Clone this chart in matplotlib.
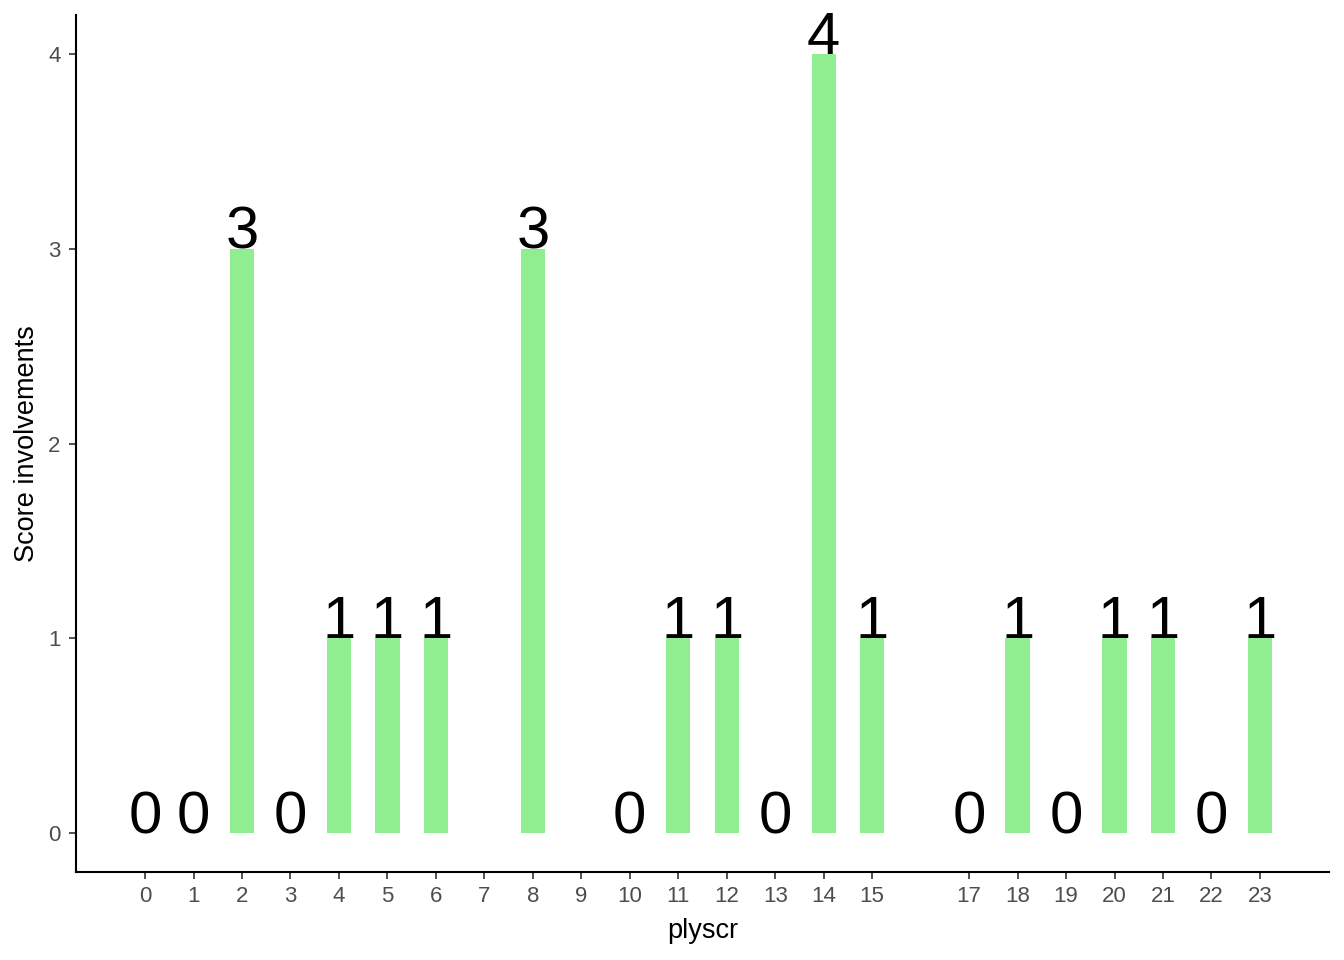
import numpy as np
import matplotlib
matplotlib.use("Agg")
import matplotlib.pyplot as plt

plt.rcParams['font.family'] = ['Liberation Sans', 'DejaVu Sans']

# plyscr values; 7 and 9 have no count (tick only), 16 absent
plyscr = [0, 1, 2, 3, 4, 5, 6, 7, 8, 9, 10, 11, 12, 13, 14, 15, 17, 18, 19, 20, 21, 22, 23]
counts = [0, 0, 3, 0, 1, 1, 1, np.nan, 3, np.nan, 0, 1, 1, 0, 4, 1, 0, 1, 0, 1, 1, 0, 1]

fig = plt.figure(figsize=(13.44, 9.6), dpi=100)
ax = fig.add_axes([76 / 1344, 1 - 872 / 960, (1329 - 76) / 1344, (872 - 15) / 960])

x = np.array(plyscr, dtype=float)
y = np.array(counts, dtype=float)
ok = ~np.isnan(y)
ax.bar(x[ok], y[ok], width=0.5, color='#90EE90')
for xi, yi in zip(x[ok], y[ok]):
    ax.text(xi, yi, f"{int(yi)}", ha='center', va='baseline', fontsize=43, color='black')

ax.set_xlim(-1.425, 24.425)
ax.set_ylim(-0.2, 4.2)
ax.set_xticks(plyscr)
ax.set_xticklabels([str(p) for p in plyscr])
ax.set_yticks([0, 1, 2, 3, 4])

for s in ['top', 'right']:
    ax.spines[s].set_visible(False)
for s in ['left', 'bottom']:
    ax.spines[s].set_linewidth(1.5)
    ax.spines[s].set_color('black')
ax.tick_params(axis='both', length=5, width=1.2, color='#333333', labelcolor='#4D4D4D',
               labelsize=16, pad=5)
ax.tick_params(axis='y', pad=6)
ax.set_xlabel('plyscr', fontsize=19.5, labelpad=8)
ax.set_ylabel('Score involvements', fontsize=19.5, labelpad=6)

fig.savefig('out.png', dpi=100)
